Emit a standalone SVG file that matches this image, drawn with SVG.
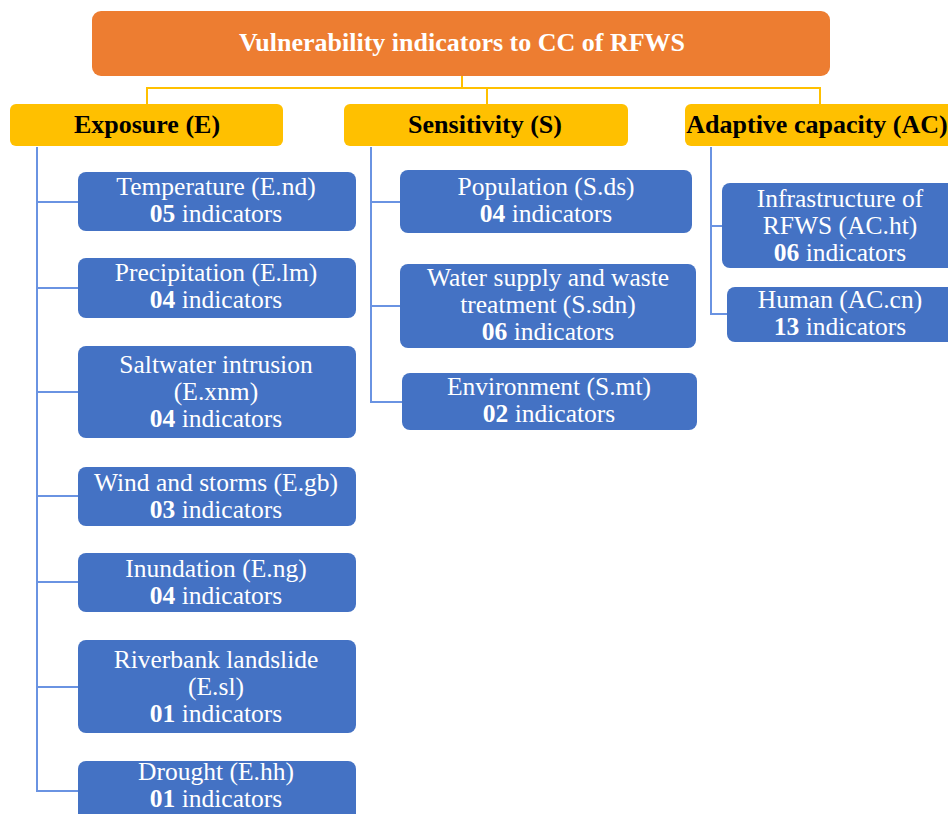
<svg xmlns="http://www.w3.org/2000/svg" width="948" height="814" viewBox="0 0 948 814">
<style>
.top{fill:#ED7D31}
.cat{fill:#FFC000}
.leaf{fill:#4472C4}
text{font-family:'Liberation Serif','Times New Roman',serif;text-anchor:middle}
.tt{font-weight:bold;font-size:26px;fill:#fff}
.ct{font-weight:bold;font-size:26px;fill:#000}
.lt{font-size:25.5px;fill:#fff}
.b{font-weight:bold}
.oc{fill:none;stroke:#FFC000;stroke-width:2}
.bc{fill:none;stroke:#6A93E2;stroke-width:2}
</style>
<rect width="948" height="814" fill="#fff"/>
<g id="connectors">
<path class="oc" d="M462 76V88M147 104V88H820V104M487 88V104"/>
<path class="bc" d="M37 147V791H78M37 202H78M37 288H78M37 392H78M37 496H78M37 582H78M37 687H78"/>
<path class="bc" d="M371 147V402H402M371 202H400M371 306H400"/>
<path class="bc" d="M711 147V314H727M711 226H722"/>
</g>
<g id="root"><rect class="top" x="92" y="11" width="738" height="65" rx="9"/><text class="tt" x="462" y="51">Vulnerability indicators to CC of RFWS</text></g>
<g id="exposure"><rect class="cat" x="10" y="104" width="273" height="42" rx="6"/><text class="ct" x="147" y="133">Exposure (E)</text></g>
<g id="sensitivity"><rect class="cat" x="344" y="104" width="284" height="42" rx="6"/><text class="ct" x="485" y="133">Sensitivity (S)</text></g>
<g id="adaptive"><rect class="cat" x="685" y="104" width="275" height="42" rx="6"/><text class="ct" x="817" y="133" font-size="24.5">Adaptive capacity (AC)</text></g>

<g id="e-temp"><rect class="leaf" x="78" y="172" width="278" height="59" rx="8"/><text class="lt" x="216" y="195">Temperature (E.nd)</text><text class="lt" x="216" y="222"><tspan class="b">05</tspan> indicators</text></g>
<g id="e-prec"><rect class="leaf" x="78" y="258" width="278" height="60" rx="8"/><text class="lt" x="216" y="281">Precipitation (E.lm)</text><text class="lt" x="216" y="308"><tspan class="b">04</tspan> indicators</text></g>
<g id="e-salt"><rect class="leaf" x="78" y="346" width="278" height="92" rx="8"/><text class="lt" x="216" y="373">Saltwater intrusion</text><text class="lt" x="216" y="400">(E.xnm)</text><text class="lt" x="216" y="427"><tspan class="b">04</tspan> indicators</text></g>
<g id="e-wind"><rect class="leaf" x="78" y="467" width="278" height="59" rx="8"/><text class="lt" x="216" y="491">Wind and storms (E.gb)</text><text class="lt" x="216" y="518"><tspan class="b">03</tspan> indicators</text></g>
<g id="e-inund"><rect class="leaf" x="78" y="553" width="278" height="59" rx="8"/><text class="lt" x="216" y="577">Inundation (E.ng)</text><text class="lt" x="216" y="604"><tspan class="b">04</tspan> indicators</text></g>
<g id="e-river"><rect class="leaf" x="78" y="640" width="278" height="93" rx="8"/><text class="lt" x="216" y="668">Riverbank landslide</text><text class="lt" x="216" y="695">(E.sl)</text><text class="lt" x="216" y="722"><tspan class="b">01</tspan> indicators</text></g>
<g id="e-drought"><rect class="leaf" x="78" y="761" width="278" height="70" rx="8"/><text class="lt" x="216" y="780">Drought (E.hh)</text><text class="lt" x="216" y="807"><tspan class="b">01</tspan> indicators</text></g>

<g id="s-pop"><rect class="leaf" x="400" y="170" width="292" height="63" rx="8"/><text class="lt" x="546" y="195">Population (S.ds)</text><text class="lt" x="546" y="222"><tspan class="b">04</tspan> indicators</text></g>
<g id="s-water"><rect class="leaf" x="400" y="264" width="296" height="84" rx="8"/><text class="lt" x="548" y="286">Water supply and waste</text><text class="lt" x="548" y="313">treatment (S.sdn)</text><text class="lt" x="548" y="340"><tspan class="b">06</tspan> indicators</text></g>
<g id="s-env"><rect class="leaf" x="402" y="373" width="295" height="57" rx="8"/><text class="lt" x="549" y="395">Environment (S.mt)</text><text class="lt" x="549" y="422"><tspan class="b">02</tspan> indicators</text></g>

<g id="ac-infra"><rect class="leaf" x="722" y="183" width="240" height="85" rx="8"/><text class="lt" x="840" y="207">Infrastructure of</text><text class="lt" x="840" y="234">RFWS (AC.ht)</text><text class="lt" x="840" y="261"><tspan class="b">06</tspan> indicators</text></g>
<g id="ac-human"><rect class="leaf" x="727" y="287" width="235" height="55" rx="8"/><text class="lt" x="840" y="308">Human (AC.cn)</text><text class="lt" x="840" y="335"><tspan class="b">13</tspan> indicators</text></g>
</svg>
